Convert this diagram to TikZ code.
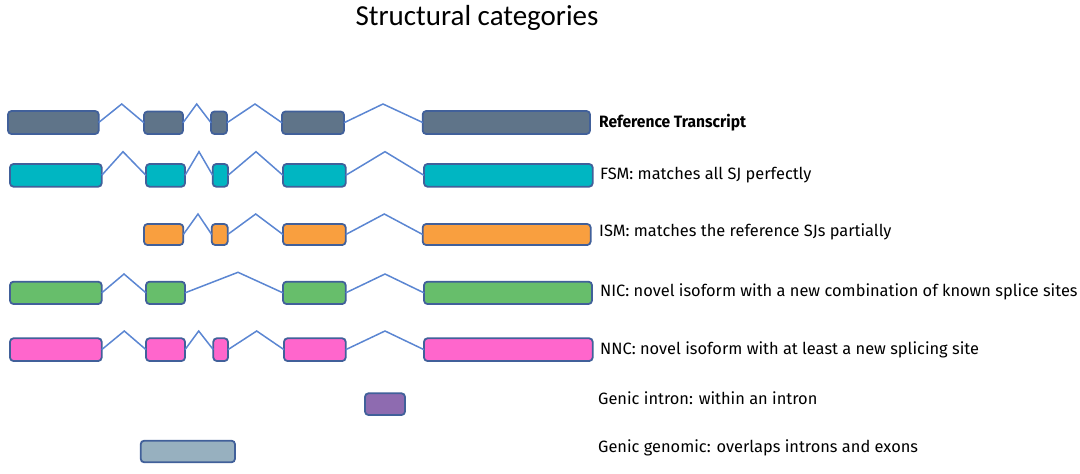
\documentclass[tikz,border=0pt]{standalone}
\usepackage{fontspec}
\usepackage{graphicx}
\setmainfont{Fira Sans}
\newfontfamily\titlefont{Carlito}
\definecolor{refc}{HTML}{5F7489}
\definecolor{fsmc}{HTML}{00B6C2}
\definecolor{ismc}{HTML}{F99F3F}
\definecolor{nicc}{HTML}{67BE6B}
\definecolor{nncc}{HTML}{FF66CC}
\definecolor{gic}{HTML}{8E6BB0}
\definecolor{ggc}{HTML}{97B0BF}
\definecolor{bordc}{HTML}{41609A}
\definecolor{intc}{HTML}{5B86D2}
\newcommand{\exonbox}[6]{%
  \pgfmathsetmacro\exCX{(#3+#4)/2}\pgfmathsetmacro\exCY{(#5+#6)/2}%
  \pgfmathsetmacro\exW{#4-#3}\pgfmathsetmacro\exH{#6-#5}%
  \node[exon, fill=#2, minimum width=\exW pt, minimum height=\exH pt] (#1) at (\exCX,\exCY) {};}
\tikzset{
  exon/.style={draw=bordc, line width=1.8pt, rounded corners=3.5pt, inner sep=0pt, outer sep=0pt},
  intron/.style={draw=intc, line width=1.5pt},
  lbl/.style={anchor=west, inner sep=0pt, font=\fontsize{16.4}{19}\selectfont, text=black}
}
\begin{document}
\begin{tikzpicture}[x=1pt,y=-1pt]
\useasboundingbox (0,0) rectangle (1080,474);
\node[font=\titlefont\fontsize{29}{34}\selectfont] (title) at (477,18) {Structural categories};
% Reference
\exonbox{r1}{refc}{8}{98.7}{111}{134}
\exonbox{r2}{refc}{144}{183}{111.5}{134}
\exonbox{r3}{refc}{211}{227}{111.5}{134}
\exonbox{r4}{refc}{282}{344}{111.5}{134}
\exonbox{r5}{refc}{422.7}{590}{111}{134}
\coordinate (rp1) at (121.7,104);
\coordinate (rp2) at (196.7,104);
\coordinate (rp3) at (255,104);
\coordinate (rp4) at (383,104);
\draw[intron] (r1.east) -- (rp1) -- (r2.west);
\draw[intron] (r2.east) -- (rp2) -- (r3.west);
\draw[intron] (r3.east) -- (rp3) -- (r4.west);
\draw[intron] (r4.east) -- (rp4) -- (r5.west);
\node[lbl] (rl) at (599,123) {\scalebox{0.95}[1]{\bfseries Reference Transcript}};
% FSM
\exonbox{f1}{fsmc}{10}{101.7}{164}{186.7}
\exonbox{f2}{fsmc}{146}{185}{164}{186.7}
\exonbox{f3}{fsmc}{212.7}{228}{164}{186.7}
\exonbox{f4}{fsmc}{283}{345.7}{164}{186.7}
\exonbox{f5}{fsmc}{424}{592.7}{164}{186.7}
\coordinate (fp1) at (123,151.7);
\coordinate (fp2) at (199,151.7);
\coordinate (fp3) at (256,151.7);
\coordinate (fp4) at (385,151.7);
\draw[intron] (f1.east) -- (fp1) -- (f2.west);
\draw[intron] (f2.east) -- (fp2) -- (f3.west);
\draw[intron] (f3.east) -- (fp3) -- (f4.west);
\draw[intron] (f4.east) -- (fp4) -- (f5.west);
\node[lbl] (fl) at (600,175) {FSM: matches all SJ perfectly};
% ISM
\exonbox{i2}{ismc}{144}{183.3}{224}{245}
\exonbox{i3}{ismc}{211.7}{227.7}{224}{245}
\exonbox{i4}{ismc}{283}{345.7}{224}{245}
\exonbox{i5}{ismc}{422.7}{590.7}{224}{245}
\coordinate (ip2) at (198,214);
\coordinate (ip3) at (255.7,214);
\coordinate (ip4) at (384.3,214);
\draw[intron] (i2.east) -- (ip2) -- (i3.west);
\draw[intron] (i3.east) -- (ip3) -- (i4.west);
\draw[intron] (i4.east) -- (ip4) -- (i5.west);
\node[lbl] (il) at (599,232) {ISM: matches the reference SJs partially};
% NIC
\exonbox{n1}{nicc}{10}{101.7}{281.7}{304}
\exonbox{n2}{nicc}{146}{185}{281.7}{304}
\exonbox{n4}{nicc}{283}{345.7}{281.7}{304}
\exonbox{n5}{nicc}{424}{592}{281.7}{304}
\coordinate (np1) at (124,274);
\coordinate (np2) at (238,272.3);
\coordinate (np4) at (385,274);
\draw[intron] (n1.east) -- (np1) -- (n2.west);
\draw[intron] (n2.east) -- (np2) -- (n4.west);
\draw[intron] (n4.east) -- (np4) -- (n5.west);
\node[lbl] (nl) at (600,292) {NIC: novel isoform with a new combination of known splice sites};
% NNC
\exonbox{m1}{nncc}{10}{101.7}{338.3}{361}
\exonbox{m2}{nncc}{146}{185}{338.3}{361}
\exonbox{m3}{nncc}{213.3}{228}{338.3}{361}
\exonbox{m4}{nncc}{284}{345.7}{338.3}{361}
\exonbox{m5}{nncc}{424}{592.7}{338.3}{361}
\coordinate (mp1) at (124.3,331);
\coordinate (mp2) at (198.7,331);
\coordinate (mp3) at (256.7,331);
\coordinate (mp4) at (385,331);
\draw[intron] (m1.east) -- (mp1) -- (m2.west);
\draw[intron] (m2.east) -- (mp2) -- (m3.west);
\draw[intron] (m3.east) -- (mp3) -- (m4.west);
\draw[intron] (m4.east) -- (mp4) -- (m5.west);
\node[lbl] (ml) at (600,350) {NNC: novel isoform with at least a new splicing site};
% Genic intron
\exonbox{gi}{gic}{365}{405}{393.3}{415}
\node[lbl] (gil) at (598,398) {Genic intron: within an intron};
% Genic genomic
\exonbox{gg}{ggc}{140.7}{235}{440.7}{462.3}
\node[lbl] (ggl) at (598,448) {Genic genomic: overlaps introns and exons};
\end{tikzpicture}
\end{document}
